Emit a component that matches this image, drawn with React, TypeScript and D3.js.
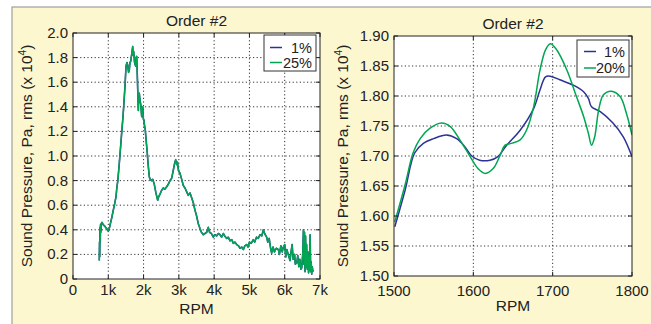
import React from "react";
import * as d3 from "d3";

// ---- Left panel: order #2 over the full RPM sweep ----
const leftRpm = [
  745, 752, 758, 765, 772, 780, 790, 800, 822, 860, 900, 950, 1000, 1020, 1060, 1100, 1142, 1180, 1220, 1238,
  1270, 1312, 1345, 1380, 1420, 1454, 1480, 1502, 1530, 1550, 1575, 1596, 1615, 1635, 1660, 1692, 1705, 1720,
  1745, 1777, 1790, 1805, 1820, 1834, 1851, 1865, 1879, 1900, 1920, 1947, 1960, 1975, 1995, 2012, 2030, 2049,
  2075, 2106, 2130, 2162, 2190, 2230, 2260, 2304, 2350, 2400, 2430, 2466, 2510, 2559, 2600, 2655, 2700, 2749,
  2797, 2840, 2880, 2910, 2940, 2960, 2990, 3032, 3080, 3126, 3174, 3220, 3268, 3316, 3363, 3409, 3457, 3505,
  3550, 3599, 3640, 3693, 3740, 3790, 3835, 3870, 3920, 3976, 4020, 4070, 4120, 4166, 4210, 4260, 4300, 4355,
  4400, 4450, 4500, 4544, 4590, 4639, 4690, 4733, 4780, 4830, 4870, 4922, 4960, 5000, 5050, 5110, 5150, 5200,
  5250, 5300, 5350, 5394, 5430, 5488, 5520, 5560, 5600, 5630, 5670, 5710, 5760, 5819, 5850, 5890, 5930, 5961,
  6000, 6030, 6060, 6100, 6150, 6180, 6210, 6240, 6280, 6300, 6340, 6370, 6400, 6430, 6460, 6482, 6510, 6530,
  6545, 6560, 6575, 6590, 6605, 6620, 6640, 6660, 6675, 6690, 6705, 6720, 6735, 6750, 6765, 6780, 6795, 6810,
];
const leftLow = [
  0.15, 0.3, 0.18, 0.42, 0.3, 0.44, 0.38, 0.45, 0.46, 0.44, 0.43, 0.41, 0.39, 0.4, 0.45, 0.5, 0.56, 0.61, 0.67, 0.73,
  0.8, 0.94, 1.06, 1.19, 1.33, 1.48, 1.6, 1.73, 1.76, 1.74, 1.68, 1.7, 1.76, 1.77, 1.82, 1.89, 1.82, 1.85,
  1.76, 1.73, 1.8, 1.81, 1.68, 1.54, 1.37, 1.5, 1.51, 1.45, 1.42, 1.32, 1.4, 1.4, 1.3, 1.29, 1.24, 1.21,
  1.12, 1.02, 0.93, 0.83, 0.81, 0.8, 0.81, 0.77, 0.7, 0.64, 0.67, 0.69, 0.72, 0.74, 0.73, 0.75, 0.77, 0.8,
  0.82, 0.88, 0.94, 0.97, 0.93, 0.95, 0.88, 0.86, 0.81, 0.76, 0.74, 0.71, 0.68, 0.7, 0.66, 0.62, 0.56, 0.51,
  0.45, 0.41, 0.38, 0.36, 0.37, 0.38, 0.42, 0.38, 0.37, 0.34, 0.36, 0.35, 0.37, 0.36, 0.34, 0.37, 0.35, 0.33,
  0.34, 0.31, 0.32, 0.29, 0.3, 0.28, 0.27, 0.25, 0.26, 0.24, 0.27, 0.28, 0.26, 0.3, 0.29, 0.32, 0.3, 0.34,
  0.33, 0.36, 0.35, 0.4, 0.37, 0.34, 0.3, 0.33, 0.25, 0.21, 0.26, 0.22, 0.25, 0.24, 0.2, 0.27, 0.22, 0.26,
  0.28, 0.18, 0.24, 0.2, 0.15, 0.22, 0.28, 0.16, 0.2, 0.12, 0.13, 0.19, 0.1, 0.16, 0.08, 0.09, 0.2, 0.4,
  0.12, 0.38, 0.06, 0.35, 0.1, 0.28, 0.08, 0.22, 0.05, 0.18, 0.07, 0.36, 0.06, 0.14, 0.04, 0.1, 0.07, 0.06,
];
// The 25% run tracks the 1% run over the whole sweep
const leftHigh = leftLow;
const leftXTicks = [0, 1000, 2000, 3000, 4000, 5000, 6000, 7000];
const leftXTickLabels = ["0", "1k", "2k", "3k", "4k", "5k", "6k", "7k"];
const leftYTicks = [0, 0.2, 0.4, 0.6, 0.8, 1.0, 1.2, 1.4, 1.6, 1.8, 2.0];
const leftYTickLabels = ["0", "0.2", "0.4", "0.6", "0.8", "1.0", "1.2", "1.4", "1.6", "1.8", "2.0"];
const leftLegend = ["1%", "25%"];

// ---- Right panel: zoom on 1500–1800 RPM ----
const rightRpmLow = [
  1501, 1514, 1526, 1537, 1550, 1566, 1579, 1589, 1598, 1608, 1621, 1631, 1642, 1659, 1676, 1684, 1691, 1697,
  1709, 1726, 1739, 1745, 1749, 1760, 1776, 1789, 1800,
];
const rightLow = [
  1.582, 1.643, 1.705, 1.721, 1.729, 1.735, 1.729, 1.716, 1.7, 1.693, 1.693, 1.699, 1.718, 1.743, 1.779, 1.81,
  1.832, 1.833, 1.827, 1.818, 1.807, 1.796, 1.782, 1.774, 1.755, 1.732, 1.699,
];
const rightRpmHigh = [
  1501, 1514, 1524, 1533, 1545, 1560, 1571, 1583, 1596, 1606, 1615, 1625, 1634, 1640, 1648, 1659, 1667, 1676,
  1684, 1691, 1697, 1705, 1718, 1730, 1739, 1745, 1749, 1753, 1758, 1764, 1774, 1785, 1793, 1800,
];
const rightHigh = [
  1.59, 1.652, 1.705, 1.729, 1.746, 1.755, 1.749, 1.727, 1.699, 1.679, 1.671, 1.679, 1.702, 1.718, 1.721, 1.727,
  1.743, 1.782, 1.843, 1.877, 1.887, 1.877, 1.843, 1.799, 1.766, 1.738, 1.718, 1.732, 1.777, 1.802, 1.808, 1.799,
  1.771, 1.735,
];
const rightXTicks = [1500, 1600, 1700, 1800];
const rightXTickLabels = ["1500", "1600", "1700", "1800"];
const rightYTicks = [1.5, 1.55, 1.6, 1.65, 1.7, 1.75, 1.8, 1.85, 1.9];
const rightYTickLabels = ["1.50", "1.55", "1.60", "1.65", "1.70", "1.75", "1.80", "1.85", "1.90"];
const rightLegend = ["1%", "20%"];

const BLUE = "#2b3494";
const GREEN = "#00a651";
const FONT = "'Liberation Sans', Arial, Helvetica, sans-serif";

type Series = { xs: number[]; ys: number[]; color: string; width: number };

type PanelProps = {
  box: { x0: number; x1: number; y0: number; y1: number };
  xDomain: [number, number];
  yDomain: [number, number];
  xTicks: number[];
  xTickLabels: string[];
  yTicks: number[];
  yTickLabels: string[];
  series: Series[];
  curve: d3.CurveFactory;
  xLabelBaseline: number;
  yTitleX: number;
  legend: { x: number; y: number; w: number; h: number; labels: string[]; rowY: number[]; lineX: [number, number] };
};

function Panel({
  box,
  xDomain,
  yDomain,
  xTicks,
  xTickLabels,
  yTicks,
  yTickLabels,
  series,
  curve,
  xLabelBaseline,
  yTitleX,
  legend,
}: PanelProps) {
  const x = d3.scaleLinear().domain(xDomain).range([box.x0, box.x1]);
  const y = d3.scaleLinear().domain(yDomain).range([box.y1, box.y0]);
  const cx = (box.x0 + box.x1) / 2;
  const cy = (box.y0 + box.y1) / 2;
  const clipId = `clip-${box.x0}`;
  const tickLen = 4;
  return (
    <g fontFamily={FONT} fill="#222">
      <defs>
        <clipPath id={clipId}>
          <rect x={box.x0} y={box.y0} width={box.x1 - box.x0} height={box.y1 - box.y0} />
        </clipPath>
      </defs>
      <rect x={box.x0} y={box.y0} width={box.x1 - box.x0} height={box.y1 - box.y0} fill="#fff" />
      {/* dotted grid */}
      {xTicks.slice(1, -1).map((t) => (
        <line key={`gx${t}`} x1={x(t)} x2={x(t)} y1={box.y0} y2={box.y1} stroke="#333" strokeWidth={1} strokeDasharray="1.2,2.4" />
      ))}
      {yTicks.slice(1, -1).map((t) => (
        <line key={`gy${t}`} x1={box.x0} x2={box.x1} y1={y(t)} y2={y(t)} stroke="#333" strokeWidth={1} strokeDasharray="1.2,2.4" />
      ))}
      {/* data */}
      <g clipPath={`url(#${clipId})`}>
        {series.map((s, i) => {
          const pts = s.xs.map((v, k) => [x(v), y(s.ys[k])] as [number, number]);
          const path = d3.line().curve(curve)(pts) || "";
          return <path key={i} d={path} fill="none" stroke={s.color} strokeWidth={s.width} strokeLinejoin="round" />;
        })}
      </g>
      {/* inward ticks on all sides */}
      {xTicks.map((t) => (
        <g key={`tx${t}`} stroke="#222" strokeWidth={1}>
          <line x1={x(t)} x2={x(t)} y1={box.y1} y2={box.y1 - tickLen} />
          <line x1={x(t)} x2={x(t)} y1={box.y0} y2={box.y0 + tickLen} />
        </g>
      ))}
      {yTicks.map((t) => (
        <g key={`ty${t}`} stroke="#222" strokeWidth={1}>
          <line x1={box.x0} x2={box.x0 + tickLen} y1={y(t)} y2={y(t)} />
          <line x1={box.x1} x2={box.x1 - tickLen} y1={y(t)} y2={y(t)} />
        </g>
      ))}
      <rect x={box.x0} y={box.y0} width={box.x1 - box.x0} height={box.y1 - box.y0} fill="none" stroke="#222" strokeWidth={1} />
      {/* tick labels */}
      {xTicks.map((t, i) => (
        <text key={`lx${t}`} x={x(t)} y={xLabelBaseline} textAnchor="middle" fontSize={15}>
          {xTickLabels[i]}
        </text>
      ))}
      {yTicks.map((t, i) => (
        <text key={`ly${t}`} x={box.x0 - 5} y={y(t) + 5} textAnchor="end" fontSize={15}>
          {yTickLabels[i]}
        </text>
      ))}
      {/* titles */}
      <text x={cx} y={box.y0 - 7} textAnchor="middle" fontSize={15.5}>
        Order #2
      </text>
      <text x={cx} y={box.y1 + 35} textAnchor="middle" fontSize={15.5}>
        RPM
      </text>
      <text transform={`translate(${yTitleX},${cy}) rotate(-90)`} textAnchor="middle" fontSize={15.5}>
        Sound Pressure, Pa, rms (x 10
        <tspan dy={-6} fontSize={10}>
          4
        </tspan>
        <tspan dy={6}>)</tspan>
      </text>
      {/* legend */}
      <rect x={legend.x} y={legend.y} width={legend.w} height={legend.h} fill="#fff" stroke="#333" strokeWidth={1} />
      {legend.labels.map((lab, i) => (
        <g key={lab}>
          <line
            x1={legend.lineX[0]}
            x2={legend.lineX[1]}
            y1={legend.rowY[i]}
            y2={legend.rowY[i]}
            stroke={series[i].color}
            strokeWidth={1.5}
          />
          <text x={legend.x + legend.w - 4} y={legend.rowY[i] + 5} textAnchor="end" fontSize={14.5}>
            {lab}
          </text>
        </g>
      ))}
    </g>
  );
}

export default function App() {
  return (
    <svg width={651} height={324} style={{ position: "absolute", left: 0, top: 0 }}>
      <rect x={0} y={0} width={651} height={324} fill="#fff" />
      <rect x={12} y={7} width={660} height={330} fill="#fdf7d0" stroke="#8c8c8c" strokeWidth={1} />
      <Panel
        box={{ x0: 73, x1: 320, y0: 33, y1: 279 }}
        xDomain={[0, 7000]}
        yDomain={[0, 2]}
        xTicks={leftXTicks}
        xTickLabels={leftXTickLabels}
        yTicks={leftYTicks}
        yTickLabels={leftYTickLabels}
        curve={d3.curveLinear}
        xLabelBaseline={295}
        yTitleX={32}
        series={[
          { xs: leftRpm, ys: leftLow, color: BLUE, width: 1.6 },
          { xs: leftRpm, ys: leftHigh, color: GREEN, width: 1.4 },
        ]}
        legend={{ x: 264, y: 35, w: 52, h: 36, labels: leftLegend, rowY: [47.5, 62.5], lineX: [270, 282] }}
      />
      <Panel
        box={{ x0: 394, x1: 632, y0: 36, y1: 276 }}
        xDomain={[1500, 1800]}
        yDomain={[1.5, 1.9]}
        xTicks={rightXTicks}
        xTickLabels={rightXTickLabels}
        yTicks={rightYTicks}
        yTickLabels={rightYTickLabels}
        curve={d3.curveCatmullRom}
        xLabelBaseline={296}
        yTitleX={348}
        series={[
          { xs: rightRpmLow, ys: rightLow, color: BLUE, width: 1.5 },
          { xs: rightRpmHigh, ys: rightHigh, color: GREEN, width: 1.5 },
        ]}
        legend={{ x: 577, y: 40, w: 52, h: 37, labels: rightLegend, rowY: [51.5, 68], lineX: [584, 596] }}
      />
    </svg>
  );
}
